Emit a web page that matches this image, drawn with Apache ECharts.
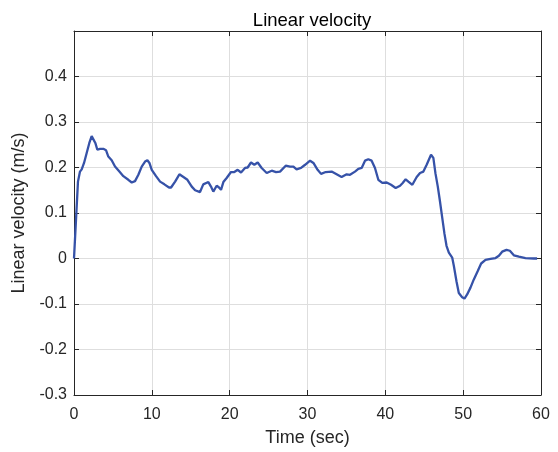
<!DOCTYPE html>
<html>
<head>
<meta charset="utf-8">
<script src="https://cdn.jsdelivr.net/npm/echarts@6/dist/echarts.min.js"></script>
<style>
html,body{margin:0;padding:0;background:#fff;}
#chart{width:558px;height:452px;}
</style>
</head>
<body>
<div id="chart"></div>
<script>
var titleText = 'Linear velocity';
var xName = 'Time (sec)';
var yName = 'Linear velocity (m/s)';
var xTicks = [0, 10, 20, 30, 40, 50, 60];
var yTicks = [-0.3, -0.2, -0.1, 0, 0.1, 0.2, 0.3, 0.4];
var yTickLabels = ['-0.3', '-0.2', '-0.1', '0', '0.1', '0.2', '0.3', '0.4'];

var time = [0,0.51,0.77,0.99,1.29,1.63,1.97,2.27,2.49,2.74,
3.0,3.34,3.77,4.11,4.41,4.84,5.27,5.83,6.34,6.98,
7.42,7.84,8.27,8.70,9.13,9.43,9.69,9.99,10.54,11.06,
11.61,12.21,12.47,12.99,13.54,14.06,14.57,15.13,15.56,16.19,
16.61,17.26,17.6,17.9,18.33,18.63,18.89,19.19,19.61,20.17,
20.6,21.03,21.46,21.97,22.31,22.74,23.17,23.6,24.11,24.76,
25.4,25.96,26.47,27.2,27.76,28.19,28.6,29.17,29.69,30.33,
30.76,31.3,31.74,32.34,33.1,33.74,34.38,35.03,35.46,36.1,
36.53,36.96,37.39,37.81,38.24,38.67,39.1,39.61,40.17,40.73,
41.33,41.89,42.23,42.61,42.96,43.47,44.03,44.46,44.89,45.31,
45.87,46.17,46.44,46.74,47.0,47.3,47.6,47.86,48.16,48.59,
48.8,49.14,49.44,49.87,50.17,50.51,50.94,51.37,51.89,52.31,
52.87,53.51,54.16,54.59,55.01,55.57,56.0,56.51,57.16,58.0,
59.09,59.5];

var velocity = [0,0.169,0.191,0.196,0.21,0.232,0.254,0.269,0.267,0.254,
0.239,0.241,0.241,0.238,0.224,0.216,0.202,0.191,0.181,0.173,
0.167,0.170,0.184,0.202,0.213,0.216,0.210,0.195,0.181,0.169,
0.163,0.156,0.156,0.169,0.185,0.179,0.173,0.158,0.150,0.146,
0.163,0.168,0.158,0.147,0.160,0.156,0.151,0.168,0.177,0.190,
0.190,0.195,0.189,0.199,0.2,0.211,0.206,0.211,0.199,0.188,
0.193,0.190,0.191,0.204,0.202,0.202,0.196,0.199,0.206,0.215,
0.21,0.195,0.186,0.190,0.191,0.185,0.179,0.185,0.184,0.191,
0.197,0.199,0.215,0.218,0.215,0.199,0.173,0.166,0.167,0.162,
0.155,0.160,0.166,0.174,0.169,0.162,0.179,0.188,0.191,0.206,
0.228,0.221,0.187,0.158,0.128,0.091,0.054,0.028,0.013,0.002,
-0.016,-0.050,-0.076,-0.085,-0.088,-0.079,-0.064,-0.046,-0.027,-0.011,
-0.003,-0.001,0.001,0.006,0.015,0.019,0.017,0.007,0.004,0.001,
0,0];

var seriesData = time.map(function (t, i) { return [t, velocity[i]]; });

function yLabel(v) {
  for (var i = 0; i < yTicks.length; i++) {
    if (Math.abs(yTicks[i] - v) < 1e-6) return yTickLabels[i];
  }
  return '';
}
function xLabel(v) {
  for (var i = 0; i < xTicks.length; i++) {
    if (Math.abs(xTicks[i] - v) < 1e-6) return String(xTicks[i]);
  }
  return '';
}

var axisColor = '#262626';
var gridColor = '#dedede';
var font = 'Liberation Sans, Arial, Helvetica, sans-serif';

function tickCfg() {
  return {show: true, inside: true, length: 5, lineStyle: {color: axisColor, width: 1}};
}
function lineCfg() {
  return {show: true, onZero: false, lineStyle: {color: axisColor, width: 1}};
}

var chart = echarts.init(document.getElementById('chart'), null, {renderer: 'canvas'});
chart.setOption({
  animation: false,
  backgroundColor: '#fff',
  title: {
    text: titleText,
    left: 307,
    top: 6,
    textAlign: 'center',
    textStyle: {fontFamily: font, fontSize: 18.5, fontWeight: 'normal', color: '#000'}
  },
  grid: {left: 74, right: 17, top: 31, height: 364.5, containLabel: false},
  xAxis: [{
    type: 'value', min: 0, max: 60, interval: 10, position: 'bottom',
    name: xName, nameLocation: 'middle', nameGap: 34,
    nameTextStyle: {fontFamily: font, fontSize: 18, color: axisColor},
    axisLine: lineCfg(),
    axisTick: tickCfg(),
    axisLabel: {fontFamily: font, fontSize: 16, color: axisColor, margin: 12, formatter: xLabel},
    splitLine: {show: true, lineStyle: {color: gridColor, width: 1}}
  }, {
    type: 'value', min: 0, max: 60, interval: 10, position: 'top',
    axisLine: lineCfg(),
    axisTick: tickCfg(),
    axisLabel: {show: false},
    splitLine: {show: false}
  }],
  yAxis: [{
    type: 'value', min: -0.3, max: 0.5, interval: 0.1, position: 'left',
    name: yName, nameLocation: 'middle', nameGap: 37,
    nameTextStyle: {fontFamily: font, fontSize: 18, color: axisColor},
    axisLine: lineCfg(),
    axisTick: tickCfg(),
    axisLabel: {fontFamily: font, fontSize: 16, color: axisColor, margin: 7, formatter: yLabel, showMaxLabel: false},
    splitLine: {show: true, lineStyle: {color: gridColor, width: 1}}
  }, {
    type: 'value', min: -0.3, max: 0.5, interval: 0.1, position: 'right',
    axisLine: lineCfg(),
    axisTick: tickCfg(),
    axisLabel: {show: false},
    splitLine: {show: false}
  }],
  series: [{
    type: 'line',
    xAxisIndex: 0, yAxisIndex: 0,
    data: seriesData,
    showSymbol: false,
    symbol: 'none',
    smooth: false,
    lineStyle: {color: '#3652a8', width: 2.3},
    z: 5
  }]
});
</script>
</body>
</html>
